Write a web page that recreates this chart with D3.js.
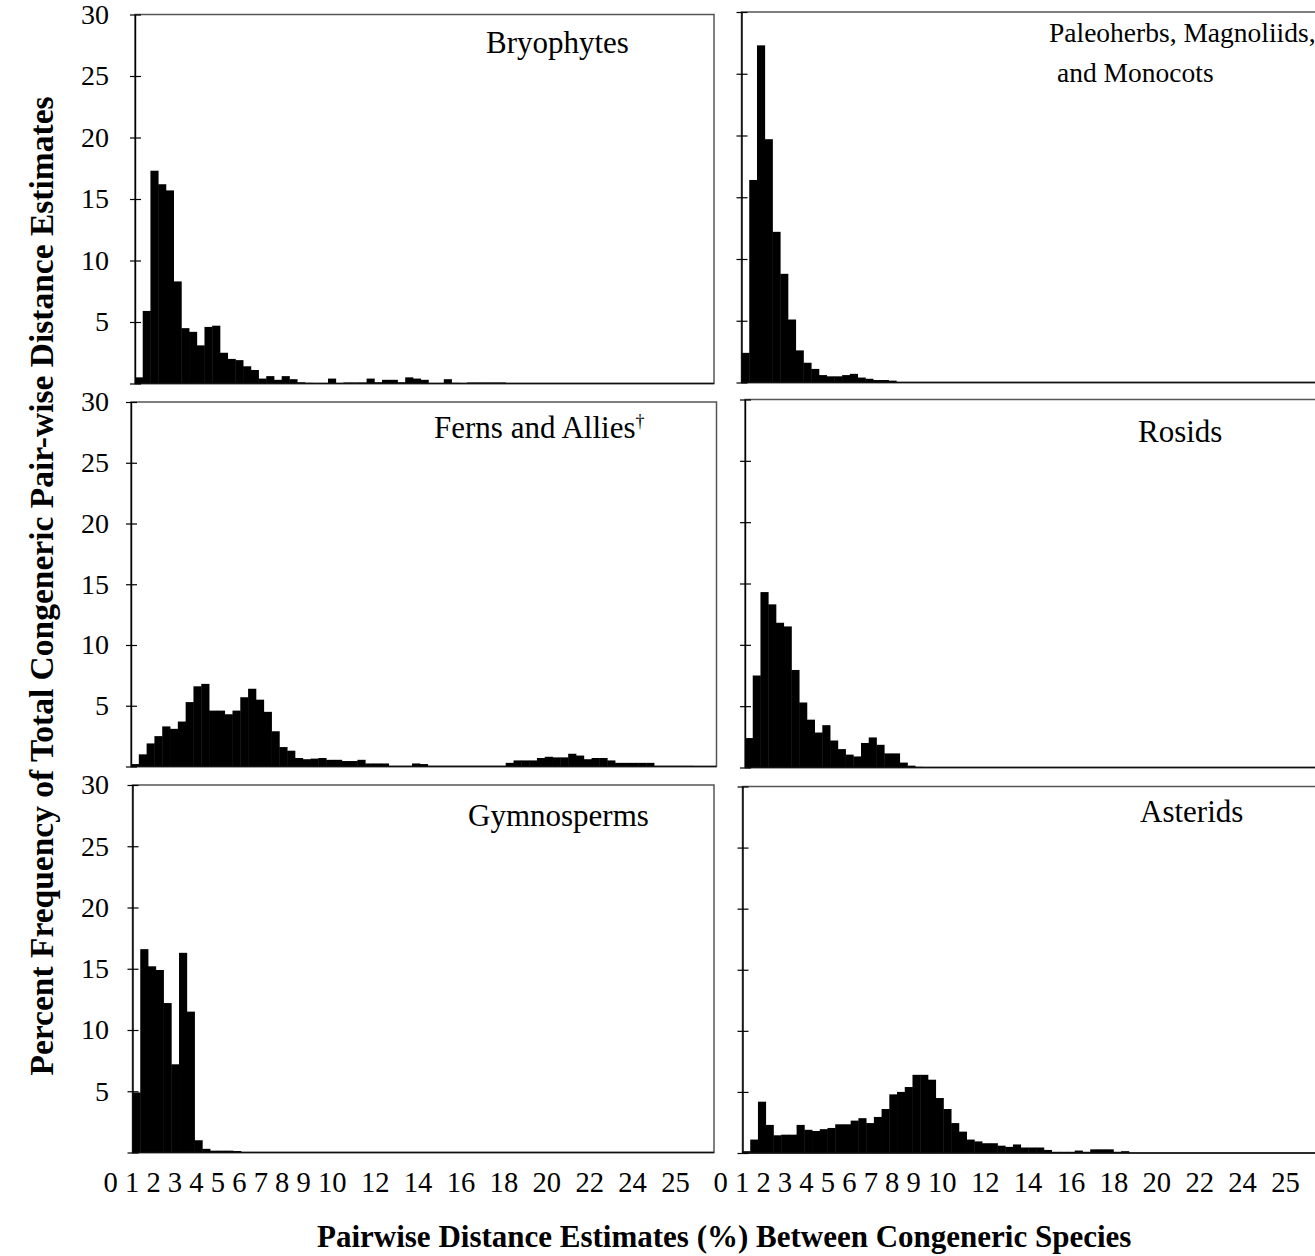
<!DOCTYPE html>
<html>
<head>
<meta charset="utf-8">
<script src="https://cdn.jsdelivr.net/npm/d3@7/dist/d3.min.js"></script>
<style>
  body { margin: 0; background: #fff; }
  text { font-family: "Liberation Serif", "Times New Roman", serif; fill: #000; }
</style>
</head>
<body>
<div id="chart"></div>
<script>
let w = 1315;
let h = 1256;

// percent of pairwise estimates per bin, bins are 1/3 % wide starting at 0
let binWidth = 1 / 3;

let bryophytes = [0.5, 5.9, 17.3, 16.2, 15.7, 8.3, 4.5, 4.2, 3.1, 4.6, 4.7, 2.5, 2.0, 1.9, 1.4, 1.1,
  0.4, 0.6, 0.3, 0.6, 0.35, 0.1, 0.05, 0, 0, 0.4, 0, 0.08, 0.08, 0.08, 0.4, 0.1, 0.3, 0.3, 0.1,
  0.5, 0.4, 0.3, 0, 0, 0.35, 0.05, 0, 0.08, 0.08, 0.08, 0.08, 0.08];

let paleoherbs = [2.4, 16.4, 27.3, 19.7, 12.2, 8.8, 5.1, 2.6, 1.6, 1.1, 0.6, 0.5, 0.5, 0.6, 0.7,
  0.4, 0.3, 0.2, 0.2, 0.15];

let ferns = [0.2, 1.0, 1.9, 2.5, 3.3, 3.1, 3.7, 5.3, 6.6, 6.8, 4.6, 4.6, 4.3, 4.6, 5.7, 6.4, 5.5,
  4.5, 2.9, 1.6, 1.3, 0.7, 0.6, 0.65, 0.7, 0.55, 0.55, 0.45, 0.45, 0.55, 0.25, 0.25, 0.25, 0.05,
  0.05, 0.05, 0.25, 0.2, 0.05, 0.05, 0.05, 0.05, 0.05, 0.05, 0.05, 0.05, 0.05, 0.05, 0.3, 0.5,
  0.5, 0.5, 0.7, 0.8, 0.75, 0.75, 1.05, 0.9, 0.6, 0.7, 0.7, 0.5, 0.3, 0.3, 0.3, 0.3, 0.3, 0.05,
  0.05, 0.05, 0.05, 0.05];

let rosids = [2.4, 7.5, 14.3, 13.3, 11.8, 11.5, 7.95, 5.3, 3.9, 2.85, 3.45, 2.2, 1.5, 1.05, 0.9,
  2.0, 2.45, 1.85, 1.15, 1.15, 0.4, 0.15, 0.05];

let gymnosperms = [4.9, 16.6, 15.2, 14.9, 12.2, 7.2, 16.3, 11.5, 1.0, 0.3, 0.15, 0.15, 0.15, 0.12];

let asterids = [0.15, 1.1, 4.2, 2.3, 1.45, 1.5, 1.5, 2.3, 1.9, 1.8, 1.95, 2.05, 2.35, 2.35, 2.65,
  2.85, 2.45, 2.95, 3.6, 4.8, 5.0, 5.4, 6.4, 6.4, 6.0, 4.5, 3.6, 2.45, 1.75, 1.1, 0.95, 0.8, 0.8,
  0.6, 0.5, 0.7, 0.45, 0.45, 0.45, 0.25, 0.1, 0.1, 0.1, 0.2, 0.1, 0.3, 0.3, 0.3, 0.1, 0.15];

let groupTitles = [["Bryophytes"], ["Paleoherbs, Magnoliids,", "and Monocots"], ["Ferns and Allies"],
  ["Rosids"], ["Gymnosperms"], ["Asterids"]];

let yTicks = [0, 5, 10, 15, 20, 25, 30];
let xTickLabels = ["0", "1", "2", "3", "4", "5", "6", "7", "8", "9", "10", "12", "14", "16", "18",
  "20", "22", "24", "25"];

// where each panel sits on the page (pasted-together figure, so not perfectly aligned)
let layout = [
  {values: bryophytes, col: 0, left: 135, top: 14.5, right: 714, bottom: 383.5, tx: [486], ty: [53], fs: 31},
  {values: paleoherbs, col: 1, left: 741.5, top: 12, right: 1322, bottom: 382.5, tx: [1049, 1057], ty: [42, 82], fs: 27.5},
  {values: ferns, col: 0, left: 131, top: 402, right: 716.5, bottom: 766.5, tx: [434], ty: [438], fs: 31, dagger: true},
  {values: rosids, col: 1, left: 745, top: 399.5, right: 1325, bottom: 767.5, tx: [1138], ty: [442], fs: 31},
  {values: gymnosperms, col: 0, left: 132.5, top: 785, right: 714, bottom: 1152.5, tx: [468], ty: [826], fs: 31, xlabels: true},
  {values: asterids, col: 1, left: 742.5, top: 786.5, right: 1322, bottom: 1153, tx: [1140], ty: [822], fs: 31, xlabels: true}
];

let svg = d3.select("#chart")
  .append("svg")
  .attr("width", w)
  .attr("height", h);

layout.forEach((p, k) => {
  let x = d3.scaleLinear().domain([0, 25]).range([p.left, p.right]);
  let y = d3.scaleLinear().domain([0, 30]).range([p.bottom, p.top]);

  let g = svg.append("g");

  // frame
  g.append("rect")
    .attr("x", p.left)
    .attr("y", p.top)
    .attr("width", p.right - p.left)
    .attr("height", p.bottom - p.top)
    .attr("fill", "none")
    .attr("stroke", "#555")
    .attr("stroke-width", 1.5);

  // bars
  let bins = p.values.map((v, i) => ({x0: i * binWidth, x1: (i + 1) * binWidth, v: v}))
    .filter(d => d.v > 0);

  g.selectAll(".bar").data(bins).enter()
    .append("rect")
    .attr("class", "bar")
    .attr("x", d => x(d.x0))
    .attr("width", d => x(d.x1) - x(d.x0) + 0.4)
    .attr("y", d => y(d.v))
    .attr("height", d => y(0) - y(d.v))
    .attr("fill", "#000");

  // baseline
  g.append("line")
    .attr("x1", p.left)
    .attr("x2", p.right)
    .attr("y1", y(0))
    .attr("y2", y(0))
    .attr("stroke", "#111")
    .attr("stroke-width", 1.5);

  // y axis with ticks crossing the line
  let yAxis = d3.axisLeft(y)
    .tickValues(yTicks)
    .tickSizeInner(5)
    .tickSizeOuter(0)
    .tickPadding(p.left - 109 - 5)
    .tickFormat(d => (p.col === 0 && d > 0) ? d : "");

  let ag = g.append("g")
    .attr("transform", `translate(${p.left},0)`)
    .call(yAxis);
  ag.select(".domain").attr("stroke", "#000").attr("stroke-width", 1.4);
  ag.selectAll(".tick line").attr("x1", 6).attr("stroke", "#000").attr("stroke-width", 1.2);
  ag.selectAll(".tick text")
    .attr("font-size", 28)
    .attr("font-family", "Liberation Serif, Times New Roman, serif");

  // panel title
  let title = g.append("text").attr("font-size", p.fs);
  groupTitles[k].forEach((line, j) => {
    title.append("tspan").attr("x", p.tx[j]).attr("y", p.ty[j]).text(line);
  });
  if (p.dagger) {
    title.append("tspan").attr("font-size", 18).attr("dy", -11).text("\u2020");
  }

  // typed-in distance labels under the bottom row
  if (p.xlabels) {
    let t = svg.append("text")
      .attr("x", p.left - 29)
      .attr("y", 1192)
      .attr("font-size", 28.6)
      .style("white-space", "pre");
    t.selectAll("tspan").data(xTickLabels).enter()
      .append("tspan")
      .text((d, i) => i === 0 ? d : (xTickLabels[i - 1].length > 1 ? "  " : " ") + d);
  }
});

// axis titles
svg.append("text")
  .attr("transform", "translate(53,586) rotate(-90)")
  .attr("text-anchor", "middle")
  .attr("font-size", 33.5)
  .attr("font-weight", "bold")
  .text("Percent Frequency of Total Congeneric Pair-wise Distance Estimates");

svg.append("text")
  .attr("x", 317)
  .attr("y", 1247)
  .attr("font-size", 31)
  .attr("font-weight", "bold")
  .text("Pairwise Distance Estimates (%) Between Congeneric Species");
</script>
</body>
</html>
